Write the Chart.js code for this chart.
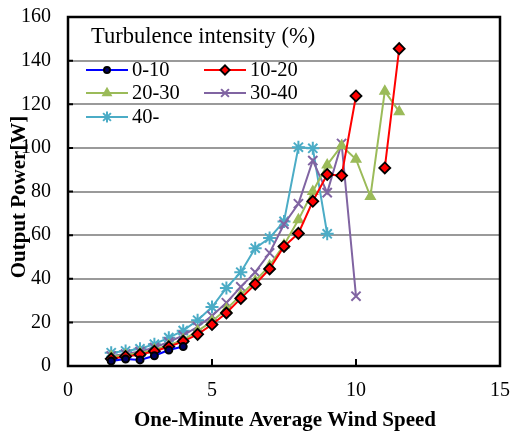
<!DOCTYPE html>
<html>
<head>
<meta charset="utf-8">
<script src="https://cdn.jsdelivr.net/npm/chart.js@4/dist/chart.umd.min.js"></script>
<style>
html,body{margin:0;padding:0;background:#fff;}
#wrap{width:510px;height:431px;position:relative;}
</style>
</head>
<body>
<div id="wrap"><canvas id="c" width="510" height="431"></canvas></div>
<script>
const windSpeed = [1.5,2,2.5,3,3.5,4,4.5,5,5.5,6,6.5,7,7.5,8,8.5,9,9.5,10,10.5,11,11.5];
const ti_0_10  = [2.3,3.2,2.8,4.7,7.3,8.9,null,null,null,null,null,null,null,null,null,null,null,null,null,null,null];
const ti_10_20 = [3.3,4.4,5.3,6.8,8.8,11.3,14.5,19,24.3,31,37.5,44.5,54.8,60.8,75.5,87.8,87.3,123.8,null,90.8,145.5];
const ti_20_30 = [4.3,5,6,7.5,9.5,12,16,20.5,26,32.5,39,46,55.5,67,80,92.2,101,94.8,77.7,126,116.6];
const ti_30_40 = [4.6,5.5,6.6,8.5,11,14,18,23,29,36.3,43,51.8,65,74.4,94.2,79.5,102,32,null,null,null];
const ti_40    = [6.1,6.9,7.9,10,13,16.2,21,27,35.8,43,54,58.7,66.3,100.3,99.8,60.6,null,null,null,null,null];
const seriesLabels = ['0-10','10-20','20-30','30-40','40-'];
const xTicks = [0,5,10,15];
const yTicks = [0,20,40,60,80,100,120,140,160];
const legendTitle = 'Turbulence intensity (%)';
const xTitle = 'One-Minute Average Wind Speed';
const yTitle = 'Output Power[W]';

const FONT = "'Liberation Serif', 'DejaVu Serif', serif";

function pts(arr){ return windSpeed.map((x,i)=>({x:x,y:arr[i]})); }

const styles = [
  {color:'#0000FF', ps:'circle', r:3.5, bg:'#000060', bc:'#000000'},
  {color:'#FF0000', ps:'rectRot', r:5.5, bg:'#FF0000', bc:'#000000'},
  {color:'#9BBB59', ps:'triangle', r:5, bg:'#9BBB59', bc:'#9BBB59'},
  {color:'#8064A2', ps:'crossRot', r:6.5, bg:'#8064A2', bc:'#8064A2'},
  {color:'#4BACC6', ps:'star', r:6.5, bg:'#4BACC6', bc:'#4BACC6'}
];
const seriesData = [ti_0_10, ti_10_20, ti_20_30, ti_30_40, ti_40];

const datasets = seriesData.map((d,i)=>({
  label: seriesLabels[i],
  data: pts(d),
  showLine: true,
  spanGaps: false,
  borderColor: styles[i].color,
  borderWidth: 2,
  pointStyle: styles[i].ps,
  pointRadius: styles[i].r,
  pointBackgroundColor: styles[i].bg,
  pointBorderColor: styles[i].bc,
  pointBorderWidth: i===1 ? 1.8 : 2,
  clip: 10,
  order: i
}));

const decor = {
  id:'decor',
  beforeDatasetsDraw(chart){
    const {ctx, chartArea:a, scales} = chart;
    ctx.save();
    ctx.strokeStyle = '#000';
    ctx.lineWidth = 2.5;
    ctx.strokeRect(a.left, a.top, a.right-a.left, a.bottom-a.top);
    ctx.lineWidth = 2;
    ctx.beginPath();
    xTicks.forEach(v=>{
      const x = scales.x.getPixelForValue(v);
      if (x > a.left+2 && x < a.right-2){ ctx.moveTo(x, a.bottom); ctx.lineTo(x, a.bottom-7); }
    });
    yTicks.forEach(v=>{
      const y = scales.y.getPixelForValue(v);
      if (y > a.top+2 && y < a.bottom-2){ ctx.moveTo(a.left, y); ctx.lineTo(a.left+5, y); }
    });
    ctx.stroke();
    ctx.restore();
  },
  afterDraw(chart){
    const {ctx, chartArea:a} = chart;
    ctx.save();
    ctx.fillStyle = '#000';
    ctx.font = "bold 21px " + FONT;
    ctx.textAlign = 'center';
    ctx.textBaseline = 'middle';
    ctx.fillText(xTitle, (a.left+a.right)/2 + 1, 421);
    ctx.save();
    ctx.translate(20, 197);
    ctx.rotate(-Math.PI/2);
    ctx.fillText(yTitle, 0, 0);
    ctx.restore();
    ctx.font = "22.5px " + FONT;
    ctx.textAlign = 'left';
    ctx.fillText(legendTitle, 91, 37);
    ctx.font = "20.5px " + FONT;
    const pos = [[86,70],[204,70],[86,93],[204,93],[86,117]];
    chart.data.datasets.forEach((ds,i)=>{
      const [x,y] = pos[i];
      ctx.strokeStyle = ds.borderColor;
      ctx.lineWidth = 2;
      ctx.beginPath(); ctx.moveTo(x, y); ctx.lineTo(x+42, y); ctx.stroke();
      ctx.fillStyle = ds.pointBackgroundColor;
      ctx.strokeStyle = ds.pointBorderColor;
      ctx.lineWidth = ds.pointBorderWidth;
      Chart.helpers.drawPoint(ctx, {
        pointStyle: ds.pointStyle,
        radius: ds.pointRadius*0.85,
        borderWidth: ds.pointBorderWidth,
        rotation: 0
      }, x+21, y);
      ctx.fillStyle = '#000';
      ctx.fillText(ds.label, x+46, y+1);
    });
    ctx.restore();
  }
};

new Chart(document.getElementById('c'), {
  type: 'scatter',
  data: { datasets },
  options: {
    responsive: false,
    animation: false,
    devicePixelRatio: 1,
    layout: { padding: { top: 17, right: 10, left: 0, bottom: 0 } },
    plugins: { legend: { display: false }, tooltip: { enabled: false } },
    scales: {
      x: {
        type: 'linear', min: 0, max: 15,
        afterBuildTicks(s){ s.ticks = xTicks.map(v=>({value:v})); },
        afterFit(s){ s.height = 65; s.paddingLeft = 0; s.paddingRight = 0; },
        ticks: { font: { family: FONT, size: 20 }, color: '#000', padding: 13, maxRotation: 0 },
        grid: { display: true, drawOnChartArea: false, drawTicks: false, color: 'rgba(0,0,0,0)' },
        border: { display: false }
      },
      y: {
        type: 'linear', min: 0, max: 160,
        afterBuildTicks(s){ s.ticks = yTicks.map(v=>({value:v})); },
        afterFit(s){ s.width = 68; s.paddingTop = 0; s.paddingBottom = 0; },
        ticks: { font: { family: FONT, size: 20 }, color: '#000', padding: 17 },
        grid: { color: '#9a9a9a', lineWidth: 2, drawTicks: false },
        border: { display: false }
      }
    }
  },
  plugins: [decor]
});
</script>
</body>
</html>
